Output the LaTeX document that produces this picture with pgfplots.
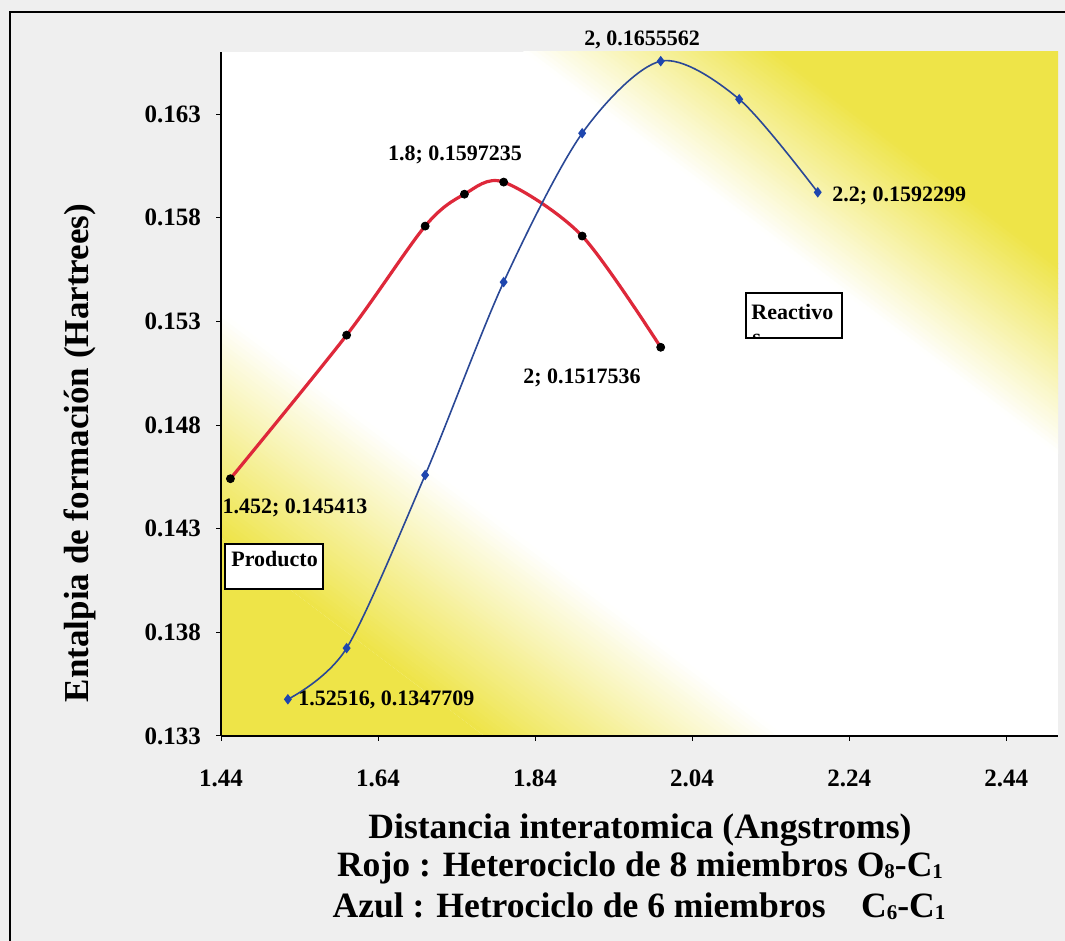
\documentclass[border=0pt]{standalone}
\usepackage{fontspec}
\setmainfont{Liberation Serif}
\usepackage{pgfplots}
\pgfplotsset{compat=1.18}
\definecolor{yel}{RGB}{238,228,72}
\definecolor{pagegray}{RGB}{239,239,239}
\definecolor{redline}{RGB}{222,40,58}
\definecolor{blueline}{RGB}{42,72,150}
\definecolor{bluemark}{RGB}{30,70,175}
\newcommand\band[3]{\fill[#3] ({0.602*#1-0.799*1500},{0.799*#1+0.602*1500}) -- ({0.602*#1+0.799*1500},{0.799*#1-0.602*1500}) -- ({0.602*#2+0.799*1500},{0.799*#2-0.602*1500}) -- ({0.602*#2-0.799*1500},{0.799*#2+0.602*1500}) -- cycle;}
\begin{document}
\begin{tikzpicture}
\path[use as bounding box] (0,0) rectangle (532.5pt,470.5pt);
\fill[pagegray] (0,0) rectangle (532.5pt,470.5pt);
% plot-area background (pixel units, y up)
\begin{scope}[x=0.5pt,y=0.5pt]
  \clip (221,205) rectangle (1058,889);
  \fill[white] (221,205) rectangle (1058,889);
  \band{0}{455}{yel}
  \foreach \i in {0,...,44}{
    \pgfmathsetmacro\pa{455+\i*4}
    \pgfmathsetmacro\pb{455+\i*4+4.6}
    \pgfmathsetmacro\pc{100-(\i+0.5)*100/45}
    \band{\pa}{\pb}{yel!\pc!white}
  }
  \foreach \i in {0,...,37}{
    \pgfmathsetmacro\pa{1025+\i*4}
    \pgfmathsetmacro\pb{1025+\i*4+4.6}
    \pgfmathsetmacro\pc{(\i+0.5)*100/38}
    \band{\pa}{\pb}{yel!\pc!white}
  }
  \band{1177}{1600}{yel}
\end{scope}
% outer frame lines (pixel units, y down)
\begin{scope}[x=0.5pt,y=-0.5pt,yshift=470.5pt]
  \draw[line width=0.6pt] (10,941) -- (10,12) -- (1065,12);
\end{scope}
\begin{axis}[
  at={(110.5pt,102.5pt)}, anchor=south west,
  scale only axis, width=418.5pt, height=342pt,
  xmin=1.44, xmax=2.506, ymin=0.133, ymax=0.166,
  axis x line*=bottom, axis y line*=left,
  axis line style={black, line width=0.6pt, -},
  xtick={1.44,1.64,1.84,2.04,2.24,2.44},
  xticklabels={1.44,1.64,1.84,2.04,2.24,2.44},
  ytick={0.133,0.138,0.143,0.148,0.153,0.158,0.163},
  yticklabels={0.133,0.138,0.143,0.148,0.153,0.158,0.163},
  tick align=outside, major tick length=2.5pt,
  tick style={black, line width=0.5pt},
  tick label style={font=\bfseries\fontsize{12.5}{14}\selectfont},
  xticklabel style={yshift=-11pt},
  yticklabel style={xshift=-4pt},
  /pgf/number format/assume math mode=true,
  clip=false,
]
\addplot[redline, line width=1.6pt, smooth, mark=*, mark size=2pt,
  mark options={black, fill=black, line width=0.4pt}] coordinates {
  (1.452,0.145413) (1.6,0.15234) (1.7,0.15760) (1.75,0.15914)
  (1.8,0.1597235) (1.9,0.15712) (2.0,0.1517536)};
\addplot[blueline, line width=0.8pt, smooth, mark=diamond*, mark size=2pt,
  mark options={bluemark, fill=bluemark}] coordinates {
  (1.52516,0.1347709) (1.6,0.13724) (1.7,0.14559) (1.8,0.15490)
  (1.9,0.16208) (2.0,0.1655562) (2.1,0.16372) (2.2,0.1592299)};
\end{axis}
% texts (pixel units, y down)
\begin{scope}[x=0.5pt,y=-0.5pt,yshift=470.5pt, every node/.style={inner sep=0pt}]
  \tikzset{dl/.style={font=\bfseries\fontsize{11}{13}\selectfont}}
  \node[dl] at (642,40) {2, 0.1655562};
  \node[dl] at (455,155) {1.8; 0.1597235};
  \node[dl, anchor=west] at (832,196) {2.2; 0.1592299};
  \node[dl] at (582,378) {2; 0.1517536};
  \node[dl] at (295,508) {1.452; 0.145413};
  \node[dl, anchor=west] at (298,700) {1.52516, 0.1347709};
  % boxes
  \draw[line width=0.9pt, fill=white] (225,544) rectangle (323,589);
  \node[dl, anchor=west] at (231,559) {Producto};
  \draw[line width=0.9pt, fill=white] (746,293) rectangle (842,338);
  \node[dl, anchor=west] at (751,312) {Reactivo};
  \begin{scope}
    \clip (746,293) rectangle (842,338);
    \node[dl, anchor=base west] at (752,345) {s};
  \end{scope}
  \draw[line width=0.9pt] (746,338) -- (842,338);
  % axis titles
  \node[rotate=90, font=\bfseries\fontsize{17.5}{20}\selectfont] at (80,453) {Entalpia de formación (Hartrees)};
  \node[font=\bfseries\fontsize{17.8}{20}\selectfont] at (640,830) {Distancia interatomica (Angstroms)};
  \node[font=\bfseries\fontsize{17.8}{20}\selectfont] at (640,868) {Rojo : Heterociclo de 8 miembros O\raisebox{-0.05em}{\fontsize{10.5}{11}\selectfont 8}-C\raisebox{-0.05em}{\fontsize{10.5}{11}\selectfont 1}};
  \node[font=\bfseries\fontsize{17.8}{20}\selectfont] at (639,906) {Azul : Hetrociclo de 6 miembros\hspace{1em}C\raisebox{-0.05em}{\fontsize{10.5}{11}\selectfont 6}-C\raisebox{-0.05em}{\fontsize{10.5}{11}\selectfont 1}};
\end{scope}
\end{tikzpicture}
\end{document}
